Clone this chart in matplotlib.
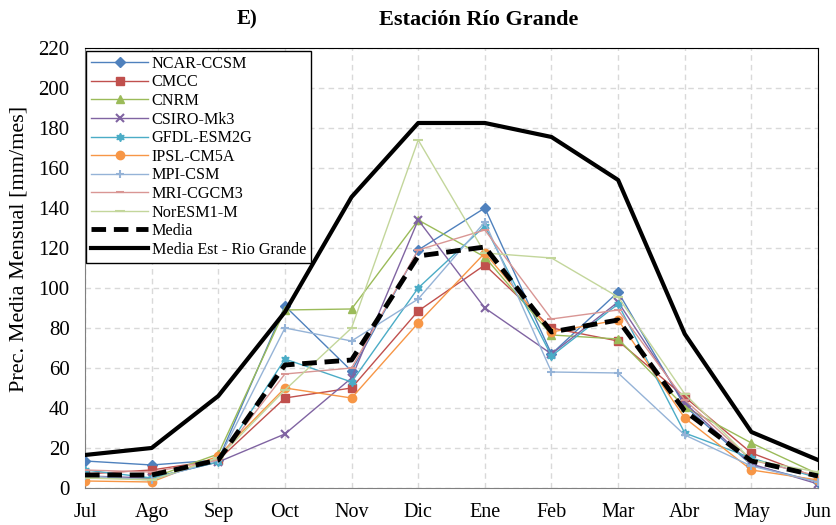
import matplotlib
matplotlib.use("Agg")
import matplotlib.pyplot as plt

plt.rcParams['font.family'] = ['Liberation Serif', 'DejaVu Serif']

months = ["Jul", "Ago", "Sep", "Oct", "Nov", "Dic", "Ene", "Feb", "Mar", "Abr", "May", "Jun"]

ncar_ccsm = [13.5, 11.5, 14, 91, 58.5, 119, 140, 67, 98, 41, 11.5, 3]
cmcc      = [7, 9, 14, 45, 50, 88.5, 111.5, 80, 73.5, 45.5, 17.5, 5]
cnrm      = [5, 5, 17, 89, 89.5, 134, 115.5, 76.5, 74.5, 40.5, 22.5, 7]
csiro_mk3 = [6, 5, 13, 27, 55, 134, 90, 67, 93, 42.5, 12, 2]
gfdl      = [9, 5, 13, 64.5, 53, 100, 131, 66, 92, 27.5, 15, 5]
ipsl      = [3.5, 3, 16, 50, 45, 82.5, 117.5, 78, 84, 35, 9, 4]
mpi       = [6, 4, 14, 80, 73.5, 94.5, 133, 58, 57.5, 26.5, 11, 3]
mri       = [9, 8, 14, 57, 60, 119, 129, 84.5, 89, 44, 14, 6]
noresm    = [5, 4, 15, 49, 80, 174, 117.5, 115, 95.5, 47, 14, 8]
media     = [6.5, 6.5, 14, 61.5, 64, 116, 120.5, 78, 84, 38.5, 13.5, 6]
media_est = [16.5, 20, 46, 88, 145.5, 182.5, 182.5, 175.5, 154, 77, 28, 14]

yticks = list(range(0, 221, 20))

models = [
    ("NCAR-CCSM", ncar_ccsm, "#4F81BD", "D", 5),
    ("CMCC", cmcc, "#C0504D", "s", 6),
    ("CNRM", cnrm, "#9BBB59", "^", 6),
    ("CSIRO-Mk3", csiro_mk3, "#8064A2", "x", 6),
    ("GFDL-ESM2G", gfdl, "#4BACC6", (6, 1, 0), 6),
    ("IPSL-CM5A", ipsl, "#F79646", "o", 6),
    ("MPI-CSM", mpi, "#95B3D7", "+", 6),
    ("MRI-CGCM3", mri, "#D99694", "_", 6),
    ("NorESM1-M", noresm, "#C3D69B", "_", 7),
]

fig = plt.figure(figsize=(8.36, 5.25), dpi=100)
ax = fig.add_axes([0.1017, 0.0705, 0.8768, 0.8381])

x = list(range(len(months)))
for name, vals, col, mk, ms in models:
    mew = 1.5 if mk in ("x", "+", "_") else 1.0
    ax.plot(x, vals, color=col, lw=1.0, marker=mk, ms=ms, mew=mew,
            mec=col, mfc=col, label=name, zorder=3)

ax.plot(x, media, color="black", lw=3.5, ls=(0, (3.0, 1.6)), label="Media", zorder=4)
ax.plot(x, media_est, color="black", lw=3.0, label="Media Est - Rio Grande", zorder=5)

ax.set_xlim(0, len(months) - 1)
ax.set_ylim(0, 220)
ax.set_xticks(x)
ax.set_xticklabels(months)
ax.set_yticks(yticks)
ax.tick_params(axis="x", labelsize=14.5, length=0, pad=11)
ax.tick_params(axis="y", labelsize=15, length=0, pad=11)
ax.grid(True, color="#D9D9D9", ls=(0, (4, 3)), lw=1.0)
ax.set_axisbelow(True)
for side in ("left", "bottom"):
    ax.spines[side].set_color("#808080")
for side in ("top", "right"):
    ax.spines[side].set_color("black")

ax.set_ylabel("Prec. Media Mensual [mm/mes]", fontsize=16)
ax.yaxis.set_label_coords(-0.077, 0.543)

leg = ax.legend(loc="upper left", bbox_to_anchor=(0.002, 0.993), fontsize=11.6,
                handlelength=3.5, labelspacing=0.16, borderpad=0.3,
                handletextpad=0.25, borderaxespad=0.0, fancybox=False,
                framealpha=1.0, edgecolor="black")
leg.get_frame().set_linewidth(1.0)

fig.text(0.296, 0.962, "E)", fontsize=15, fontweight="bold", ha="center", va="center")
fig.text(0.572, 0.962, "Estación Río Grande", fontsize=16, fontweight="bold",
         ha="center", va="center")

fig.savefig("out.png", dpi=100)
